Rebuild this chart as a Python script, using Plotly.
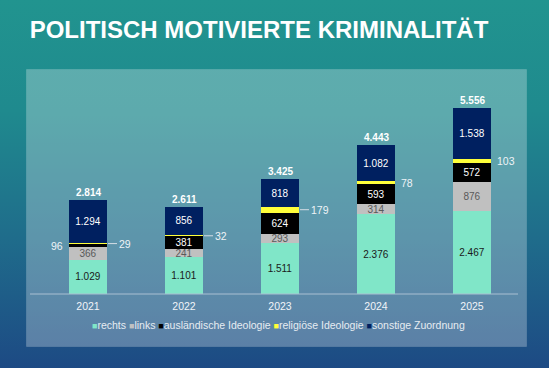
import base64
import plotly.graph_objects as go

# ---------------- data ----------------
years = ["2021", "2022", "2023", "2024", "2025"]
rechts = [1029, 1101, 1511, 2376, 2467]
links = [366, 241, 293, 314, 876]
auslaendisch = [96, 381, 624, 593, 572]
religioes = [29, 32, 179, 78, 103]
sonstige = [1294, 856, 818, 1082, 1538]
totals = [2814, 2611, 3425, 4443, 5556]
series_names = ["rechts", "links", "ausländische Ideologie", "religiöse Ideologie", "sonstige Zuordnung"]
title_text = "POLITISCH MOTIVIERTE KRIMINALITÄT"

# ---------------- style ----------------
W, H = 549, 368
ML, MR, MT, MB = 40, 29, 70, 74
PW, PH = W - ML - MR, H - MT - MB
FONT = "Arial, Liberation Sans, sans-serif"
colors = ["#80e6c8", "#c0c0c0", "#000000", "#ffff3a", "#002060"]
text_colors = ["#1a1a1a", "#595959", "#ffffff", "#ffffff", "#ffffff"]
leader = [True, True, True, False, False]


def fmt(v):
    return f"{v:,}".replace(",", ".")


series = [rechts, links, auslaendisch, religioes, sonstige]

fig = go.Figure()
for name, vals, col, tcol in zip(series_names, series, colors, text_colors):
    fig.add_trace(go.Bar(
        x=years, y=vals, name=name, width=0.406,
        marker=dict(color=col, line=dict(width=0)),
        text=[fmt(v) if v >= 200 else "" for v in vals],
        textposition="inside", insidetextanchor="middle", textangle=0,
        constraintext="none",
        textfont=dict(family=FONT, size=10, color=tcol),
        showlegend=False,
    ))

annotations = []
# totals above the bars (x as category index)
for i, t in enumerate(totals):
    annotations.append(dict(x=i, y=t, text=f"<b>{fmt(t)}</b>", showarrow=False,
                            yanchor="bottom", yshift=0,
                            font=dict(family=FONT, size=10, color="#ffffff")))
# small segment labels
for i in range(len(years)):
    base_rel = rechts[i] + links[i] + auslaendisch[i]
    ymid = base_rel + religioes[i] / 2
    if leader[i]:
        annotations.append(dict(x=i, y=ymid, text=fmt(religioes[i]), showarrow=True,
                                arrowhead=0, arrowwidth=1, arrowcolor="#d5dde5",
                                ax=9, ay=0, xanchor="left", xshift=20, standoff=0,
                                font=dict(family=FONT, size=10.5, color="#eef3f7")))
    else:
        annotations.append(dict(x=i, y=ymid, text=fmt(religioes[i]), showarrow=False,
                                xanchor="left", xshift=23,
                                font=dict(family=FONT, size=10.5, color="#eef3f7")))
    if auslaendisch[i] < 200:
        amid = rechts[i] + links[i] + auslaendisch[i] / 2
        annotations.append(dict(x=i, y=amid, text=fmt(auslaendisch[i]), showarrow=False,
                                xanchor="right", xshift=-23,
                                font=dict(family=FONT, size=10.5, color="#eef3f7")))

# custom legend line
parts = []
for name, col in zip(series_names, colors):
    parts.append(f"<span style='color:{col};font-size:9px'>■</span>{name}")
legend_text = "\u00a0".join(parts)
annotations.append(dict(xref="paper", yref="paper", x=(278 - ML) / PW, y=-(325 - (H - MB)) / PH,
                        text=legend_text, showarrow=False, xanchor="center", yanchor="middle",
                        font=dict(family=FONT, size=10.5, color="#e6ecf2")))

# background (gradient + lighter panel) as an SVG image
svg = f'''<svg xmlns="http://www.w3.org/2000/svg" width="{W}" height="{H}" viewBox="0 0 {W} {H}" preserveAspectRatio="none">
<defs><linearGradient id="g" x1="0" y1="0" x2="0" y2="1">
<stop offset="0" stop-color="#21948f"/>
<stop offset="0.3" stop-color="#1f8a8e"/>
<stop offset="0.65" stop-color="#1f6c8b"/>
<stop offset="1" stop-color="#1d4a84"/>
</linearGradient></defs>
<rect width="{W}" height="{H}" fill="url(#g)"/>
<rect x="26.5" y="69.5" width="500" height="277" fill="#ffffff" fill-opacity="0.28" stroke="#ffffff" stroke-opacity="0.12"/>
</svg>'''
src = "data:image/svg+xml;base64," + base64.b64encode(svg.encode("utf-8")).decode("ascii")

fig.update_layout(
    width=W, height=H,
    margin=dict(l=ML, r=MR, t=MT, b=MB),
    barmode="stack",
    separators=",.",
    paper_bgcolor="#1f7f8d",
    plot_bgcolor="rgba(0,0,0,0)",
    title=dict(text=f"<b>{title_text}</b>", x=259 / W, xanchor="center",
               y=1 - 30 / H, yanchor="middle",
               font=dict(family=FONT, size=24, color="#ffffff")),
    xaxis=dict(type="category", showgrid=False, showline=False, ticks="", zeroline=False,
               range=[-0.5, len(years) - 0.5], ticklabelstandoff=4,
               tickfont=dict(family=FONT, size=10.5, color="#f0f4f8"), fixedrange=True),
    yaxis=dict(visible=False, range=[0, 6690], fixedrange=True),
    annotations=annotations,
    images=[dict(source=src, xref="paper", yref="paper", x=-ML / PW, y=1 + MT / PH,
                 sizex=W / PW, sizey=H / PH, xanchor="left", yanchor="top",
                 sizing="stretch", layer="below")],
    shapes=[dict(type="line", xref="paper", yref="paper", x0=-10 / PW, x1=478 / PW, y0=0, y1=0,
                 line=dict(color="#a9bfd2", width=1), layer="above")],
    showlegend=False,
    hovermode=False,
)

fig.write_html("out.html", config={"displayModeBar": False, "staticPlot": True},
               post_script="document.body.style.margin='0';document.body.style.overflow='hidden';")
